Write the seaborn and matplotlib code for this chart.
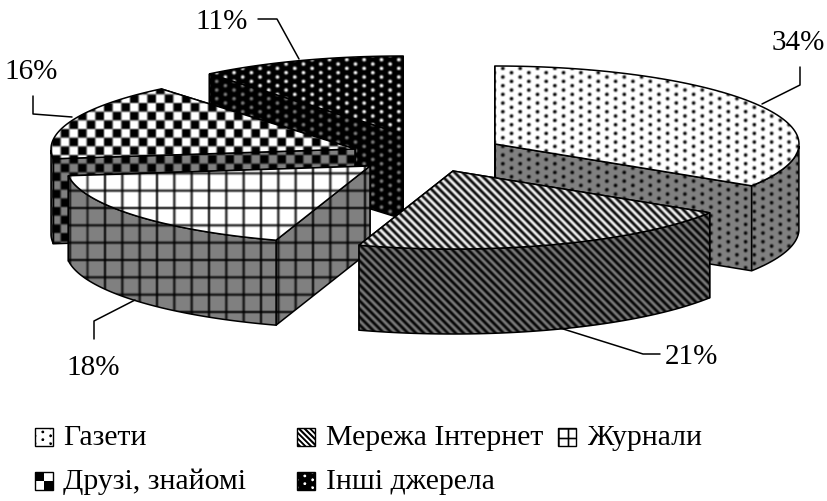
import numpy as np
import matplotlib
matplotlib.use("Agg")
import matplotlib.pyplot as plt
import seaborn as sns
from matplotlib.patches import Polygon, Rectangle

categories = ["Газети", "Мережа Інтернет", "Журнали", "Друзі, знайомі", "Інші джерела"]
values = [34, 21, 18, 16, 11]

W, H = 827, 502
RX, RY, DEPTH = 304, 78, 85
GREY = sns.color_palette(["#808080"])[0]
PERIOD = 8.67

# where each exploded slice has its point, in pixels
apex_x = [495, 453, 370, 355, 403]
apex_y = [145, 172, 167, 150, 135]
patterns = ["dots", "stripes", "grid", "checker", "inverse_dots"]
draw_order = [4, 3, 0, 2, 1]

# label position, then the leader line
label_xy = [(798, 43), (691, 357), (93, 368), (31, 72), (222, 22)]
leaders = [
    [(800, 68), (800, 86), (762, 105)],
    [(660, 355), (643, 355), (560, 329)],
    [(94, 340), (94, 322), (135, 301)],
    [(33, 97), (33, 115), (72, 118)],
    [(258, 20), (277, 20), (299, 60)],
]

legend_key_xy = [(35, 429), (297, 429), (558, 429), (35, 473), (297, 473)]
legend_text_x = [63, 326, 587, 63, 326]
key_scale = {"dots": 0.9, "stripes": 0.7, "grid": 0.55, "checker": 1.04, "inverse_dots": 0.9}


def soften(a):
    # the reference is a resampled picture, so hatches are a bit blurred
    k = np.array([0.25, 0.5, 0.25])
    a = np.apply_along_axis(lambda r: np.convolve(r, k, mode="same"), 0, a)
    return np.apply_along_axis(lambda r: np.convolve(r, k, mode="same"), 1, a)


def ink(name, scale=1.0, size=(H, W), blur=True):
    # black coverage of a hatch, averaged from 3x samples
    ss = 3
    yy, xx = np.mgrid[0:size[0] * ss, 0:size[1] * ss]
    x, y = (xx + 0.5) / ss, (yy + 0.5) / ss
    p = PERIOD * scale
    if name in ("dots", "inverse_dots"):
        # staggered columns, one period apart
        gx = np.mod(x, 2 * p) - p
        gy = np.mod(y, p) - p / 2
        gx2 = np.mod(x + p, 2 * p) - p
        gy2 = np.mod(y + p / 2, p) - p / 2
        r = 1.8 if blur else 1.4
        m = (gx**2 + gy**2 < r**2) | (gx2**2 + gy2**2 < r**2)
        if name == "inverse_dots":
            m = ~m
    elif name == "stripes":
        m = np.mod(x - y, p * 0.92) < p * 0.46
    elif name == "grid":
        q = p * 2
        m = (np.mod(x, q) < 1.8) | (np.mod(y, q) < 1.8)
    else:
        m = (np.floor(x / p) + np.floor(y / p)) % 2 == 0
    c = m.reshape(size[0], ss, size[1], ss).mean(axis=(1, 3))
    return soften(c) if blur else c


def textured(ax, pts, coverage, base):
    shade = (1 - coverage)[..., None] * np.array(base)
    im = ax.imshow(shade, extent=(0, W, H, 0), interpolation="nearest", zorder=ax.zcount)
    poly = Polygon(pts, closed=True, transform=ax.transData)
    im.set_clip_path(poly)
    ax.add_patch(Polygon(pts, closed=True, fill=False, ec="black", lw=1.1,
                         joinstyle="miter", zorder=ax.zcount + 0.5))
    ax.zcount += 1


sns.set_theme(style="white")
plt.rcParams["font.family"] = ["Liberation Serif", "DejaVu Serif"]

fig = plt.figure(figsize=(W / 100, H / 100), dpi=100)
ax = fig.add_axes([0, 0, 1, 1])
ax.zcount = 1
ax.set_xlim(0, W)
ax.set_ylim(H, 0)
ax.axis("off")

cover = {name: ink(name) for name in patterns}
edges = np.cumsum([0] + values) * 3.6
WHITE = (1, 1, 1)

for i in draw_order:
    cx, cy = apex_x[i], apex_y[i]
    th = np.radians(np.linspace(edges[i], edges[i + 1], 80))
    rim = np.c_[cx + RX * np.sin(th), cy - RY * np.cos(th)]
    down = np.array([0, DEPTH])
    c = cover[patterns[i]]
    # side faces along the two cuts, far one first
    for p in (rim[-1], rim[0]):
        textured(ax, [(cx, cy), p, p + down, (cx, cy + DEPTH)], c, GREY)
    # curved wall, only where the rim faces the viewer
    front = np.cos(th) < 0
    if front.any():
        arc = rim[front]
        textured(ax, np.vstack([arc, arc[::-1] + down]), c, GREY)
    textured(ax, np.vstack([[(cx, cy)], rim]), c, WHITE)

for v, (tx, ty), line in zip(values, label_xy, leaders):
    ax.text(tx, ty, f"{v}%", fontsize=21, ha="center", va="center", color="black", zorder=500)
    xs, ys = zip(*line)
    ax.plot(xs, ys, color="black", lw=1.1, zorder=500)

for name, (kx, ky), tx, pat in zip(categories, legend_key_xy, legend_text_x, patterns):
    side = 18
    c = ink(pat, scale=key_scale[pat], size=(side, side), blur=False)
    ax.imshow(1 - c, extent=(kx, kx + side, ky + side, ky), cmap="gray", vmin=0, vmax=1,
              interpolation="nearest", zorder=500)
    ax.add_patch(Rectangle((kx, ky), side, side, fill=False, ec="black", lw=1.0, zorder=501))
    ax.text(tx, ky + 9, name, fontsize=21.4, ha="left", va="center", color="black", zorder=501)

ax.set_xlim(0, W)
ax.set_ylim(H, 0)
fig.savefig("out.png", dpi=100)
